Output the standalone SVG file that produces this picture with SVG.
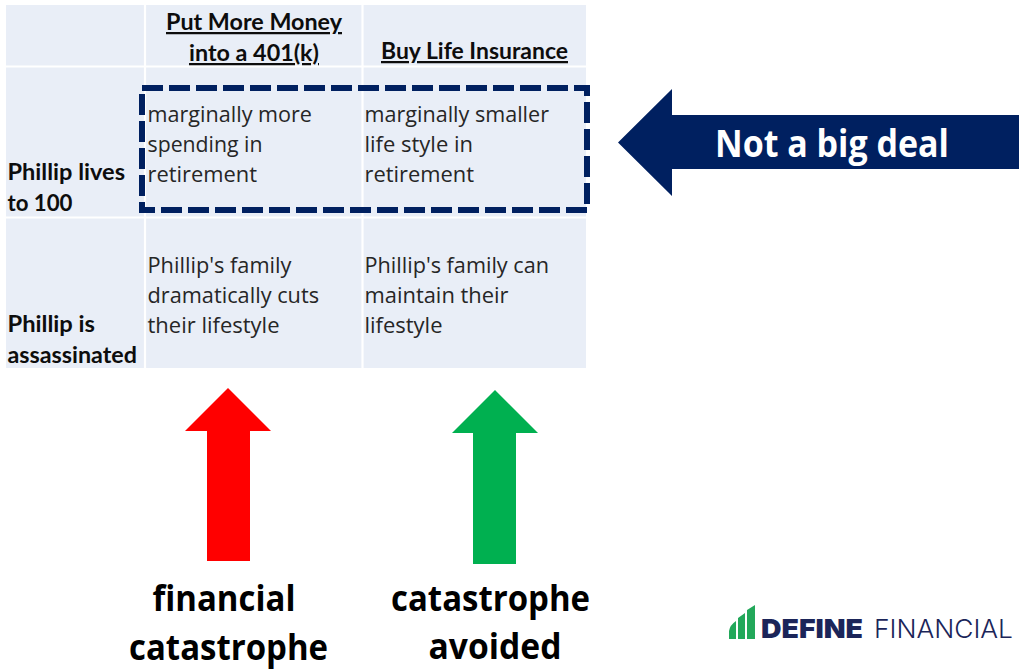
<svg xmlns="http://www.w3.org/2000/svg" width="1024" height="670" viewBox="0 0 1024 670">
<style>
text{font-family:"Lato","Liberation Sans",sans-serif;fill:#0d0d0d}
.h{font-weight:700;font-size:22.500px;text-decoration:underline;text-decoration-skip-ink:none}
.r{font-weight:700;font-size:22.500px}
.b{font-family:"Open Sans","Liberation Sans",sans-serif;font-size:21.500px;fill:#262626}
.big{font-family:"Open Sans","Liberation Sans",sans-serif;font-weight:700;font-size:35px;fill:#000;text-anchor:middle}
.grid{stroke:#fff;stroke-width:2.2}
</style>
<rect width="1024" height="670" fill="#fff"/>
<g id="table">
<rect x="6" y="5" width="580" height="363" fill="#e9eef7"/>
<path class="grid" d="M145 5V368M362.500 5V368M6 66.500H586M6 217.500H586"/>
</g>
<g id="headers">
<text class="h" x="166" y="30" textLength="176" lengthAdjust="spacingAndGlyphs">Put More Money</text>
<text class="h" x="189" y="61" textLength="130" lengthAdjust="spacingAndGlyphs">into a 401(k)</text>
<text class="h" x="381" y="59" textLength="187" lengthAdjust="spacingAndGlyphs">Buy Life Insurance</text>
</g>
<g id="row-lives">
<text class="r" x="7.500" y="180" textLength="117.500" lengthAdjust="spacingAndGlyphs">Phillip lives</text>
<text class="r" x="7.500" y="211" textLength="65" lengthAdjust="spacingAndGlyphs">to 100</text>
<text class="b" x="147.500" y="121.500" textLength="164.500" lengthAdjust="spacingAndGlyphs">marginally more</text>
<text class="b" x="147.500" y="151.500" textLength="115" lengthAdjust="spacingAndGlyphs">spending in</text>
<text class="b" x="147.500" y="181.500" textLength="109.500" lengthAdjust="spacingAndGlyphs">retirement</text>
<text class="b" x="364.500" y="121.500" textLength="184.500" lengthAdjust="spacingAndGlyphs">marginally smaller</text>
<text class="b" x="364.500" y="151.500" textLength="108.500" lengthAdjust="spacingAndGlyphs">life style in</text>
<text class="b" x="364.500" y="181.500" textLength="109.500" lengthAdjust="spacingAndGlyphs">retirement</text>
</g>
<g id="row-assassinated">
<text class="r" x="7.500" y="332" textLength="87.500" lengthAdjust="spacingAndGlyphs">Phillip is</text>
<text class="r" x="7.500" y="363" textLength="129.500" lengthAdjust="spacingAndGlyphs">assassinated</text>
<text class="b" x="147.500" y="272.500" textLength="144" lengthAdjust="spacingAndGlyphs">Phillip's family</text>
<text class="b" x="147.500" y="302.500" textLength="171.500" lengthAdjust="spacingAndGlyphs">dramatically cuts</text>
<text class="b" x="147.500" y="332.500" textLength="132" lengthAdjust="spacingAndGlyphs">their lifestyle</text>
<text class="b" x="364.500" y="272.500" textLength="184.500" lengthAdjust="spacingAndGlyphs">Phillip's family can</text>
<text class="b" x="364.500" y="302.500" textLength="144" lengthAdjust="spacingAndGlyphs">maintain their</text>
<text class="b" x="364.500" y="332.500" textLength="78" lengthAdjust="spacingAndGlyphs">lifestyle</text>
</g>
<g id="highlight">
<rect x="142" y="88" width="445" height="122" fill="none" stroke="#002060" stroke-width="6" stroke-dasharray="21 6"/>
</g>
<g id="arrow-not-big-deal">
<path d="M618 142.500L672 89V115H1019V169H672V196Z" fill="#002060"/>
<text x="715" y="157" font-size="37" font-weight="700" textLength="234" lengthAdjust="spacingAndGlyphs" style="fill:#fff;font-family:'Open Sans',sans-serif">Not a big deal</text>
</g>
<g id="arrow-red">
<path d="M228 388L271 431H250V561H207V431H185Z" fill="#f00"/>
</g>
<g id="arrow-green">
<path d="M495 390L538 433H516V564H473V433H452Z" fill="#00b050"/>
</g>
<g id="label-catastrophe">
<text class="big" x="224" y="611" textLength="143" lengthAdjust="spacingAndGlyphs">financial</text>
<text class="big" x="228.500" y="660" textLength="199" lengthAdjust="spacingAndGlyphs">catastrophe</text>
</g>
<g id="label-avoided">
<text class="big" x="490.500" y="611" textLength="199" lengthAdjust="spacingAndGlyphs">catastrophe</text>
<text class="big" x="495" y="659" textLength="133" lengthAdjust="spacingAndGlyphs">avoided</text>
</g>
<g id="logo">
<path d="M729 639V631Q730 625 736 621V639ZM738 639V618L745 613V639ZM747 639V610L755 605V639Z" fill="#22a85a"/>
<text x="761" y="638" font-size="26" font-weight="900" textLength="102" lengthAdjust="spacingAndGlyphs" style="font-family:Inter,sans-serif;fill:#1b2559">DEFINE</text>
<text x="874" y="638" font-size="26" font-weight="300" textLength="139" lengthAdjust="spacingAndGlyphs" style="font-family:Inter,sans-serif;fill:#1b2559">FINANCIAL</text>
</g>
</svg>
